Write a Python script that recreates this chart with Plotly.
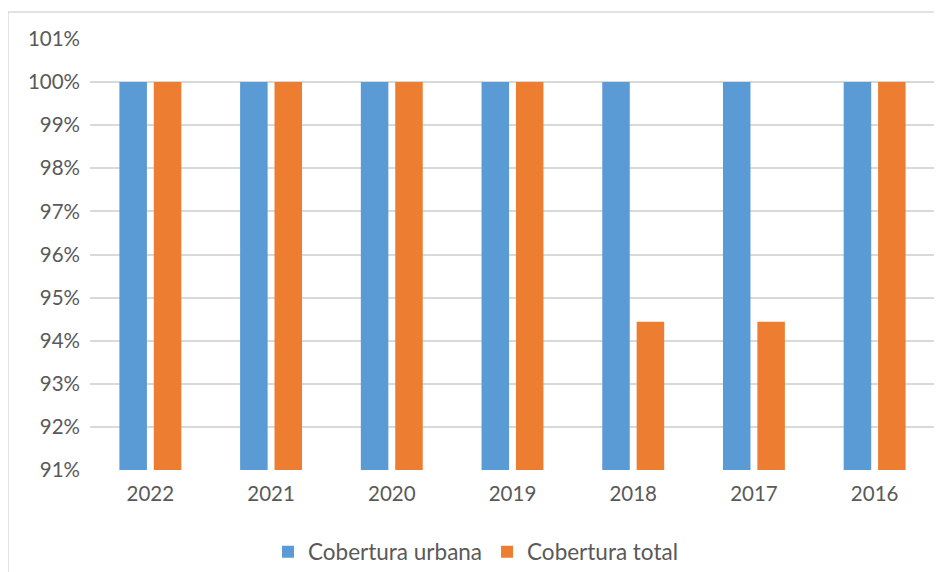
import plotly.graph_objects as go

years = ["2022", "2021", "2020", "2019", "2018", "2017", "2016"]
cobertura_urbana = [100, 100, 100, 100, 100, 100, 100]
cobertura_total = [100, 100, 100, 100, 94.44, 94.44, 100]
y_ticks = list(range(91, 102))

fig = go.Figure()
fig.add_trace(go.Bar(x=years, y=cobertura_urbana, name="Cobertura urbana",
                     marker=dict(color="#5B9BD5", line=dict(width=0))))
fig.add_trace(go.Bar(x=years, y=cobertura_total, name="Cobertura total",
                     marker=dict(color="#ED7D31", line=dict(width=0))))

# page has an 8px body margin; figure coordinates = page coordinates - 8
W, H = 934, 564
ml, mr, mt, mb = 82, 7, 31, 102
pw = W - ml - mr
ph = H - mt - mb

def px_x(p):
    return (p - ml) / pw

def px_y(p):
    return (H - mb - p) / ph

fs = 20.5
fig.update_layout(
    width=W, height=H,
    margin=dict(l=ml, r=mr, t=mt, b=mb, autoexpand=False),
    paper_bgcolor="white", plot_bgcolor="white",
    barmode="group", bargap=0.43, bargroupgap=0.2,
    font=dict(family="Lato, Carlito, sans-serif", size=fs, color="#595959"),
    showlegend=True,
    legend=dict(orientation="h", x=467.5 / W, xanchor="center", xref="container",
                y=(H - 544) / H, yanchor="middle", yref="container",
                font=dict(size=22.5, color="#595959"),
                itemwidth=30, traceorder="normal"),
    xaxis=dict(type="category", showgrid=False, showline=False, ticks="",
               automargin=False,
               ticklabelstandoff=9, tickfont=dict(size=fs, color="#595959")),
    yaxis=dict(range=[91, 101], tickvals=y_ticks, ticktext=[f"{v}%" for v in y_ticks],
               showgrid=True, gridcolor="#D9D9D9", gridwidth=1.5,
               zeroline=False, showline=False, ticks="", automargin=False,
               ticklabelstandoff=9, tickfont=dict(size=fs, color="#595959")),
    shapes=[dict(type="rect", xref="paper", yref="paper",
                 x0=px_x(0), x1=px_x(940), y0=px_y(570), y1=px_y(4),
                 line=dict(color="#D9D9D9", width=1.5), fillcolor="rgba(0,0,0,0)",
                 layer="below")],
)

fig.write_html("out.html")
